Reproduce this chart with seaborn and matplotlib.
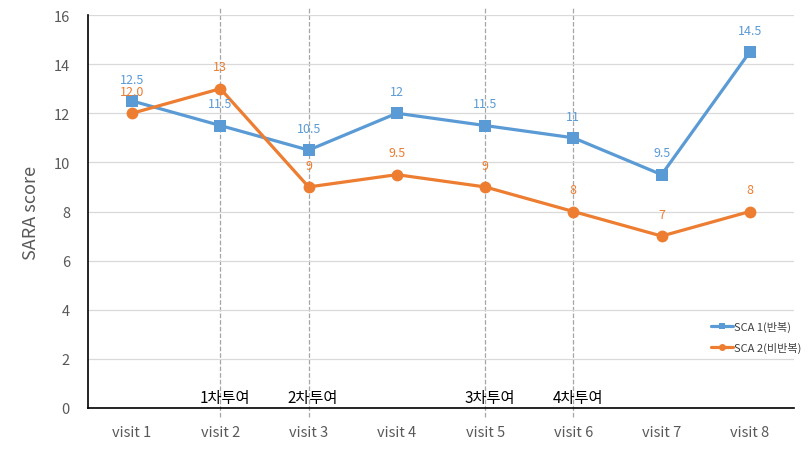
import numpy as np
import pandas as pd
import matplotlib.pyplot as plt
import seaborn as sns

# data
visits = ["visit 1", "visit 2", "visit 3", "visit 4", "visit 5", "visit 6", "visit 7", "visit 8"]
sca1 = [12.5, 11.5, 10.5, 12, 11.5, 11, 9.5, 14.5]
sca2 = [12.0, 13, 9, 9.5, 9, 8, 7, 8]
sca1_labels = ["12.5", "11.5", "10.5", "12", "11.5", "11", "9.5", "14.5"]
sca2_labels = ["12.0", "13", "9", "9.5", "9", "8", "7", "8"]
series_names = ["SCA 1(반복)", "SCA 2(비반복)"]
dose_visits = ["visit 2", "visit 3", "visit 5", "visit 6"]
dose_labels = ["1차투여", "2차투여", "3차투여", "4차투여"]

blue = "#5B9BD5"
orange = "#ED7D31"

sns.set_style("white")
plt.rcParams['font.family'] = ['Noto Sans CJK KR', 'DejaVu Sans']

df = pd.DataFrame({
    "visit": visits * 2,
    "score": sca1 + sca2,
    "series": [series_names[0]] * len(visits) + [series_names[1]] * len(visits),
})

fig = plt.figure(figsize=(8.1, 4.52), dpi=100)
ax = fig.add_axes([88 / 810, 1 - 409 / 452, 706 / 810, 393 / 452])

sns.lineplot(data=df, x="visit", y="score", hue="series", style="series",
             palette={series_names[0]: blue, series_names[1]: orange},
             markers={series_names[0]: "s", series_names[1]: "o"},
             dashes=False, linewidth=2.3, markersize=8.5, markeredgewidth=0,
             sort=False, ax=ax)

ax.set_xlim(-0.5, len(visits) - 0.5)
ax.set_ylim(0, 16)
ax.set_yticks(range(0, 17, 2))
ax.yaxis.grid(True, color="#D9D9D9", linewidth=0.9)
ax.set_axisbelow(True)

for s in ["top", "right"]:
    ax.spines[s].set_visible(False)
ax.spines["left"].set_color("black")
ax.spines["bottom"].set_color("black")
ax.spines["left"].set_linewidth(1.2)
ax.spines["bottom"].set_linewidth(1.2)

ax.tick_params(axis="both", length=0, labelsize=10.5, labelcolor="#595959")
ax.tick_params(axis="x", pad=12)
ax.tick_params(axis="y", pad=13)
ax.set_xlabel("")
ax.set_ylabel("SARA score", fontsize=13, color="#595959", labelpad=10)

# value labels
for i, (v, t) in enumerate(zip(sca1, sca1_labels)):
    ax.annotate(t, (i, v), xytext=(0, 11), textcoords="offset points",
                ha="center", va="bottom", fontsize=9, color=blue)
for i, (v, t) in enumerate(zip(sca2, sca2_labels)):
    ax.annotate(t, (i, v), xytext=(0, 11), textcoords="offset points",
                ha="center", va="bottom", fontsize=9, color=orange)

# dosing markers
for v, t in zip(dose_visits, dose_labels):
    x = visits.index(v)
    ax.axvline(x, ymin=-0.023, ymax=1.02, color="#A6A6A6", linestyle="--",
               linewidth=0.9, clip_on=False, zorder=0)
    ax.text(x + 0.05, 0.1, t, ha="center", va="bottom", fontsize=11, color="black")

handles, labels = ax.get_legend_handles_labels()
for h in handles:
    h.set_markersize(5)
    h.set_linewidth(2.3)
ax.legend(handles, labels, loc="center right", bbox_to_anchor=(1.025, 0.18),
          frameon=False, fontsize=8, handlelength=2.0, handletextpad=0.1,
          labelspacing=0.9, labelcolor="#404040")

fig.savefig("out.png", dpi=100)
